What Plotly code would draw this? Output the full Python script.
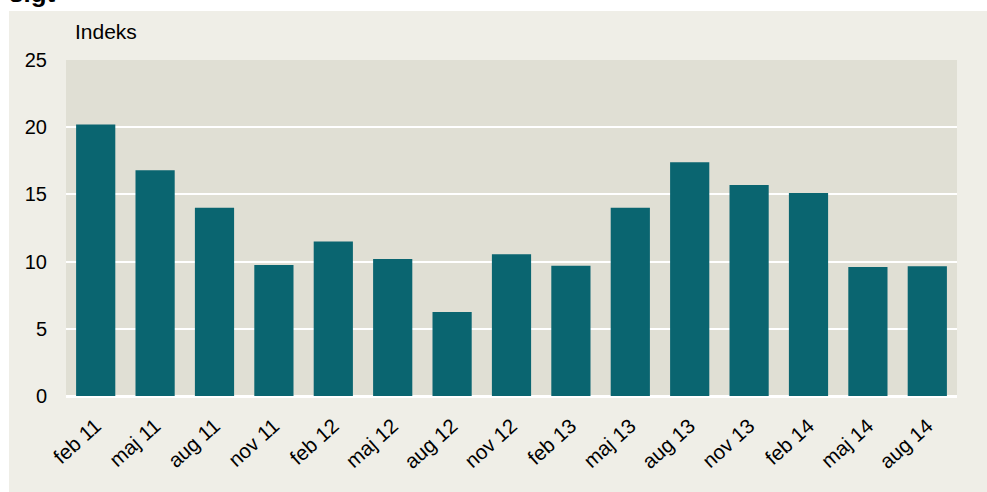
import plotly.graph_objects as go

categories = ["feb 11", "maj 11", "aug 11", "nov 11", "feb 12", "maj 12", "aug 12",
              "nov 12", "feb 13", "maj 13", "aug 13", "nov 13", "feb 14", "maj 14", "aug 14"]
values = [20.2, 16.8, 14.0, 9.75, 11.5, 10.2, 6.25, 10.55, 9.7, 14.0, 17.4, 15.7, 15.1, 9.6, 9.65]
y_ticks = [0, 5, 10, 15, 20, 25]

FONT = "Liberation Sans, Arial, sans-serif"

fig = go.Figure()
fig.add_trace(go.Bar(x=categories, y=values, marker=dict(color="#0A6570", line=dict(width=0))))

fig.update_layout(
    width=987, height=492,
    margin=dict(l=66, r=30, t=60, b=96),
    paper_bgcolor="white",
    plot_bgcolor="rgba(0,0,0,0)",
    bargap=0.34,
    showlegend=False,
    font=dict(family=FONT, size=20, color="black"),
    xaxis=dict(showgrid=False, tickangle=-42, ticks="", showline=False,
               tickfont=dict(size=20.5), zeroline=False, ticklabelstandoff=13),
    yaxis=dict(range=[0, 25], tickvals=y_ticks, showgrid=True, gridcolor="white",
               gridwidth=1.5, zeroline=True, zerolinecolor="white", zerolinewidth=2.5,
               ticks="", tickfont=dict(size=20), ticklabelstandoff=18),
    shapes=[
        dict(type="rect", xref="paper", yref="paper", x0=-0.064, x1=1.2, y0=-0.5, y1=1.146,
             fillcolor="#EFEEE7", line=dict(width=0), layer="below"),
        dict(type="rect", xref="paper", yref="paper", x0=0, x1=1, y0=0, y1=1,
             fillcolor="#E0DFD4", line=dict(width=0), layer="below"),
    ],
    annotations=[
        dict(text="Indeks", xref="paper", yref="paper", x=0.0079, y=1.046, xanchor="left",
             yanchor="bottom", showarrow=False, font=dict(size=21)),
        dict(text="<b>sigt</b>", xref="paper", yref="paper", x=-0.066, y=1.149, xanchor="left",
             yanchor="bottom", showarrow=False, font=dict(size=26)),
    ],
)

fig.write_html("out.html", config={"displayModeBar": False},
               post_script="document.body.style.margin='0';")
